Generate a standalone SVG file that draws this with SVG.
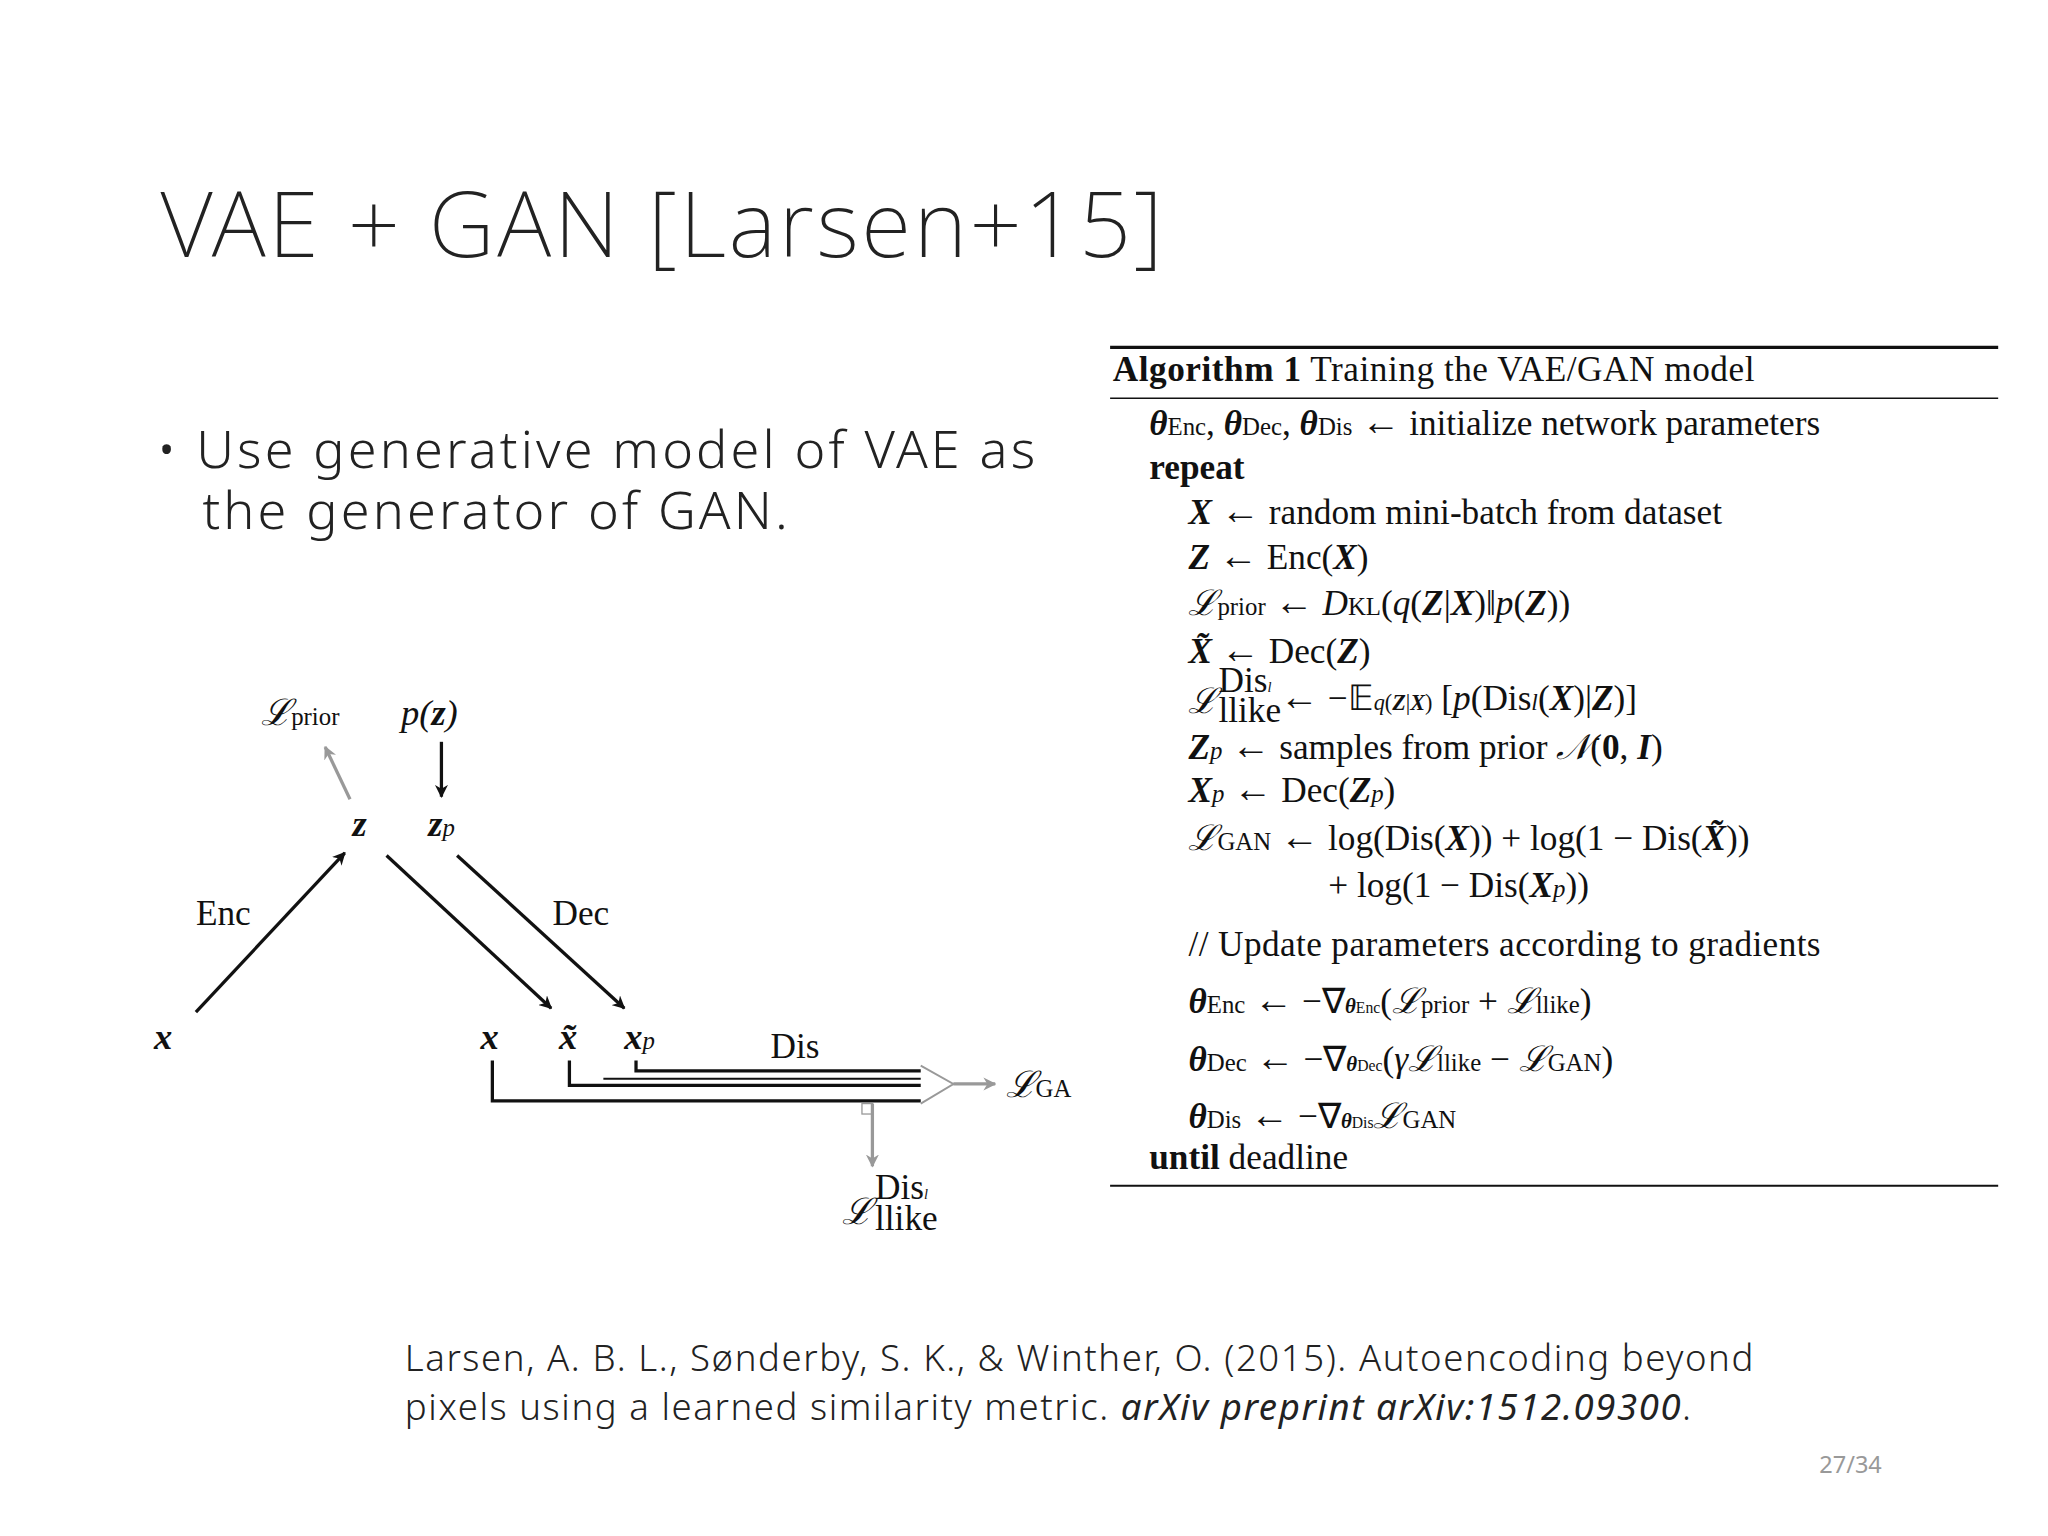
<svg xmlns="http://www.w3.org/2000/svg" width="2048" height="1536" viewBox="0 0 2048 1536">
<defs>
<marker id="ah" markerWidth="10" markerHeight="10" refX="9" refY="5" orient="auto" markerUnits="userSpaceOnUse"><path d="M0,0 L10,5 L0,10 L3,5 z" fill="#111"/></marker>
<marker id="ag" markerWidth="10" markerHeight="10" refX="9" refY="5" orient="auto" markerUnits="userSpaceOnUse"><path d="M0,0 L10,5 L0,10 L3,5 z" fill="#999"/></marker>
</defs>
<style>
.t{font-family:"Noto Sans","Liberation Sans",sans-serif;fill:#222}
.s{font-family:"Liberation Serif",serif;fill:#111;font-size:27px}
.m{font-family:"Liberation Serif",serif;fill:#111;font-size:28px;font-style:italic}
.k{stroke:#111;stroke-width:2.5;fill:none}
</style>
<rect width="2048" height="1536" fill="#fff"/>
<g transform="scale(1.306)">
<text class="t" x="123" y="197" font-size="70" font-weight="200" letter-spacing="2">VAE + GAN [Larsen+15]</text>
<g id="bullet">
<text class="t" x="120" y="358" font-size="40" font-weight="300" letter-spacing="2.4">• Use generative model of VAE as</text>
<text class="t" x="155" y="405" font-size="40" font-weight="300" letter-spacing="2.4">the generator of GAN.</text>
</g>
<rect x="833" y="320" width="12" height="50" fill="#fff"/>
<g id="algorithm">
<line x1="850" y1="266" x2="1530" y2="266" stroke="#111" stroke-width="2.5"/>
<line x1="850" y1="305" x2="1530" y2="305" stroke="#111" stroke-width="1.2"/>
<line x1="850" y1="908" x2="1530" y2="908" stroke="#111" stroke-width="1.5"/>
<text class="s" x="852" y="292" letter-spacing="0.4"><tspan font-weight="bold">Algorithm 1</tspan> Training the VAE/GAN model</text>
<text class="s" x="880" y="333"><tspan font-weight="bold" font-style="italic">θ</tspan><tspan font-size="19">Enc</tspan>, <tspan font-weight="bold" font-style="italic">θ</tspan><tspan font-size="19">Dec</tspan>, <tspan font-weight="bold" font-style="italic">θ</tspan><tspan font-size="19">Dis</tspan> <tspan font-size="30">←</tspan> initialize network parameters</text>
<text class="s" x="880" y="367" font-weight="bold">repeat</text>
<text class="s" x="910" y="401"><tspan font-weight="bold" font-style="italic">X</tspan> <tspan font-size="30">←</tspan> random mini-batch from dataset</text>
<text class="s" x="910" y="436"><tspan font-weight="bold" font-style="italic">Z</tspan> <tspan font-size="30">←</tspan> Enc(<tspan font-weight="bold" font-style="italic">X</tspan>)</text>
<text class="s" x="910" y="471"><tspan font-style="italic">ℒ</tspan><tspan font-size="19">prior</tspan> <tspan font-size="30">←</tspan> <tspan font-style="italic">D</tspan><tspan font-size="19">KL</tspan>(<tspan font-style="italic">q</tspan>(<tspan font-weight="bold" font-style="italic">Z</tspan>|<tspan font-weight="bold" font-style="italic">X</tspan>)‖<tspan font-style="italic">p</tspan>(<tspan font-weight="bold" font-style="italic">Z</tspan>))</text>
<text class="s" x="910" y="508"><tspan font-weight="bold" font-style="italic">X̃</tspan> <tspan font-size="30">←</tspan> Dec(<tspan font-weight="bold" font-style="italic">Z</tspan>)</text>
<text class="s" x="910" y="546"><tspan font-style="italic">ℒ</tspan></text>
<text class="s" x="933" y="530" font-size="15">Dis<tspan font-style="italic" font-size="11">l</tspan></text>
<text class="s" x="933" y="553" font-size="16">llike</text>
<text class="s" x="980" y="544"><tspan font-size="30">←</tspan> −𝔼<tspan font-size="17" font-style="italic">q</tspan><tspan font-size="17">(<tspan font-weight="bold" font-style="italic">Z</tspan>|<tspan font-weight="bold" font-style="italic">X</tspan>)</tspan> [<tspan font-style="italic">p</tspan>(Dis<tspan font-style="italic" font-size="18">l</tspan>(<tspan font-weight="bold" font-style="italic">X</tspan>)|<tspan font-weight="bold" font-style="italic">Z</tspan>)]</text>
<text class="s" x="910" y="581"><tspan font-weight="bold" font-style="italic">Z</tspan><tspan font-size="19" font-style="italic">p</tspan> <tspan font-size="30">←</tspan> samples from prior <tspan font-style="italic">𝒩</tspan>(<tspan font-weight="bold">0</tspan>, <tspan font-weight="bold" font-style="italic">I</tspan>)</text>
<text class="s" x="910" y="614"><tspan font-weight="bold" font-style="italic">X</tspan><tspan font-size="19" font-style="italic">p</tspan> <tspan font-size="30">←</tspan> Dec(<tspan font-weight="bold" font-style="italic">Z</tspan><tspan font-size="19" font-style="italic">p</tspan>)</text>
<text class="s" x="910" y="651"><tspan font-style="italic">ℒ</tspan><tspan font-size="19">GAN</tspan> <tspan font-size="30">←</tspan> log(Dis(<tspan font-weight="bold" font-style="italic">X</tspan>)) + log(1 − Dis(<tspan font-weight="bold" font-style="italic">X̃</tspan>))</text>
<text class="s" x="1017" y="687">+ log(1 − Dis(<tspan font-weight="bold" font-style="italic">X</tspan><tspan font-size="19" font-style="italic">p</tspan>))</text>
<text class="s" x="910" y="732" letter-spacing="0.3">// Update parameters according to gradients</text>
<text class="s" x="910" y="776"><tspan font-weight="bold" font-style="italic">θ</tspan><tspan font-size="19">Enc</tspan> <tspan font-size="30">←</tspan> −∇<tspan font-size="16" font-style="italic" font-weight="bold">θ</tspan><tspan font-size="12">Enc</tspan>(<tspan font-style="italic">ℒ</tspan><tspan font-size="19">prior</tspan> + <tspan font-style="italic">ℒ</tspan><tspan font-size="19">llike</tspan>)</text>
<text class="s" x="910" y="820"><tspan font-weight="bold" font-style="italic">θ</tspan><tspan font-size="19">Dec</tspan> <tspan font-size="30">←</tspan> −∇<tspan font-size="16" font-style="italic" font-weight="bold">θ</tspan><tspan font-size="12">Dec</tspan>(<tspan font-style="italic">γℒ</tspan><tspan font-size="19">llike</tspan> − <tspan font-style="italic">ℒ</tspan><tspan font-size="19">GAN</tspan>)</text>
<text class="s" x="910" y="864"><tspan font-weight="bold" font-style="italic">θ</tspan><tspan font-size="19">Dis</tspan> <tspan font-size="30">←</tspan> −∇<tspan font-size="16" font-style="italic" font-weight="bold">θ</tspan><tspan font-size="12">Dis</tspan><tspan font-style="italic">ℒ</tspan><tspan font-size="19">GAN</tspan></text>
<text class="s" x="880" y="895"><tspan font-weight="bold">until</tspan> deadline</text>
</g>
<g id="nodes">
<text class="m" x="200" y="555">ℒ<tspan font-size="19" font-style="normal">prior</tspan></text>
<text class="m" x="307" y="555">p(<tspan font-weight="bold">z</tspan>)</text>
<text class="m" x="270" y="640" font-weight="bold">z</text>
<text class="m" x="328" y="640"><tspan font-weight="bold">z</tspan><tspan font-size="19">p</tspan></text>
<text class="s" x="150" y="708" font-size="28">Enc</text>
<text class="s" x="423" y="708" font-size="28">Dec</text>
<text class="m" x="118" y="803" font-weight="bold">x</text>
<text class="m" x="368" y="803" font-weight="bold">x</text>
<text class="m" x="428" y="803" font-weight="bold">x̃</text>
<text class="m" x="478" y="803"><tspan font-weight="bold">x</tspan><tspan font-size="19">p</tspan></text>
<text class="s" x="590" y="810" font-size="28">Dis</text>
<text class="m" x="770" y="840">ℒ<tspan font-size="19" font-style="normal">GA</tspan></text>
<text class="m" x="645" y="937">ℒ</text>
<text class="s" x="670" y="918" font-size="15">Dis<tspan font-style="italic" font-size="11">l</tspan></text>
<text class="s" x="670" y="942" font-size="16">llike</text>
</g>
<g id="connectors">
<line class="k" x1="150" y1="775" x2="264" y2="653" marker-end="url(#ah)"/>
<line x1="268" y1="612" x2="249" y2="572" stroke="#999" stroke-width="2.5" marker-end="url(#ag)"/>
<line class="k" x1="338" y1="568" x2="338" y2="610" marker-end="url(#ah)"/>
<line class="k" x1="296" y1="655" x2="422" y2="772" marker-end="url(#ah)"/>
<line class="k" x1="350" y1="655" x2="478" y2="772" marker-end="url(#ah)"/>
<polyline class="k" points="377,812 377,843 705,843"/>
<polyline class="k" points="436,812 436,831 705,831"/>
<polyline class="k" points="487,812 487,820 705,820"/>
<line x1="705" y1="826" x2="462" y2="826" stroke="#111" stroke-width="1.5"/>
<path d="M705,816 L730,830 L705,845" fill="none" stroke="#999" stroke-width="1.5"/>
<line x1="730" y1="830" x2="762" y2="830" stroke="#999" stroke-width="2.5" marker-end="url(#ag)"/>
<line x1="668" y1="845" x2="668" y2="893" stroke="#999" stroke-width="2.5" marker-end="url(#ag)"/>
<rect x="660" y="845" width="8" height="8" fill="none" stroke="#999" stroke-width="1"/>
</g>
<g id="citation">
<text class="t" x="310" y="1050" font-size="28" font-weight="300" letter-spacing="1.2">Larsen, A. B. L., Sønderby, S. K., &amp; Winther, O. (2015). Autoencoding beyond</text>
<text class="t" x="310" y="1087" font-size="28" font-weight="300" letter-spacing="1.2">pixels using a learned similarity metric. <tspan font-style="italic" font-weight="400">arXiv preprint arXiv:1512.09300</tspan>.</text>
<text class="t" x="1393" y="1128" font-size="18" style="fill:#999">27/34</text>
</g>
</g>
</svg>
